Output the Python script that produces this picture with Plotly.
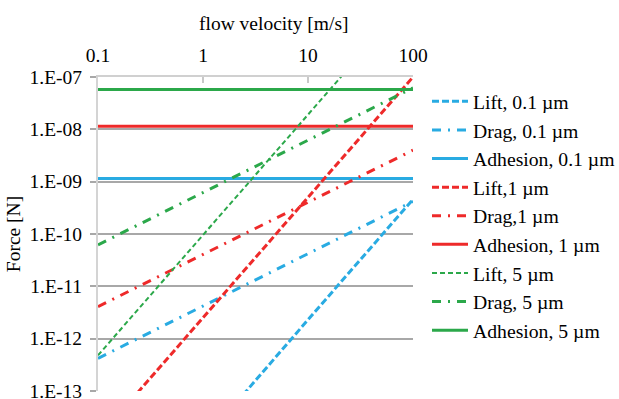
import plotly.graph_objects as go

# ---- data ----
velocity = [0.1, 1, 10, 100]  # m/s

lift_01 = [5.8e-17, 1.1e-14, 2.3e-12, 4.6e-10]
drag_01 = [4.2e-13, 4.2e-12, 4.2e-11, 4.2e-10]
adh_01 = [1.15e-9, 1.15e-9, 1.15e-9, 1.15e-9]

lift_1 = [1.26e-14, 2.5e-12, 5.0e-10, 1.0e-7]
drag_1 = [4.1e-12, 4.1e-11, 4.1e-10, 4.0e-9]
adh_1 = [1.15e-8, 1.15e-8, 1.15e-8, 1.15e-8]

lift_5 = [4.8e-13, 9.5e-11, 1.9e-8, 3.8e-6]
drag_5 = [6.2e-11, 6.2e-10, 6.2e-9, 6.2e-8]
adh_5 = [5.8e-8, 5.8e-8, 5.8e-8, 5.8e-8]

names = ["Lift, 0.1 µm", "Drag, 0.1 µm", "Adhesion, 0.1 µm",
         "Lift,1 µm", "Drag,1 µm", "Adhesion, 1 µm",
         "Lift, 5 µm", "Drag, 5 µm", "Adhesion, 5 µm"]

x_ticks = [0.1, 1, 10, 100]
x_ticklabels = ["0.1", "1", "10", "100"]
y_ticks = [1e-13, 1e-12, 1e-11, 1e-10, 1e-9, 1e-8, 1e-7]
y_ticklabels = ["1.E-13", "1.E-12", "1.E-11", "1.E-10", "1.E-09", "1.E-08", "1.E-07"]

BLUE = "#29abe2"
RED = "#ee2a2a"
GREEN = "#2ba84a"
FONT = "Liberation Serif, Times New Roman, serif"

series = [lift_01, drag_01, adh_01, lift_1, drag_1, adh_1, lift_5, drag_5, adh_5]
colors = [BLUE] * 3 + [RED] * 3 + [GREEN] * 3
dashes = ["7px,3px", "9px,7px,2px,7px", "solid",
          "7px,3px", "9px,7px,2px,7px", "solid",
          "5px,3px", "9px,7px,2px,7px", "solid"]
widths = [3, 3, 3, 3, 3, 3, 2, 3, 3]

fig = go.Figure()
for name, ys, c, d, w in zip(names, series, colors, dashes, widths):
    fig.add_trace(go.Scatter(x=velocity, y=ys, mode="lines", name=name,
                             line=dict(color=c, dash=d, width=w)))

W, H = 619, 399
L, R, T, B = 98, 413, 77, 391

fig.update_layout(
    width=W, height=H,
    margin=dict(l=L, r=W - R, t=T, b=H - B, autoexpand=False),
    paper_bgcolor="white", plot_bgcolor="white",
    font=dict(family=FONT, size=19, color="black"),
    showlegend=True,
    legend=dict(x=(427 - L) / (R - L), xanchor="left",
                y=(B - 82) / (B - T), yanchor="top",
                font=dict(family=FONT, size=19.7, color="black"),
                bgcolor="rgba(0,0,0,0)", itemwidth=36,
                tracegroupgap=0),
    xaxis=dict(type="log", side="top", range=[-1, 2],
               tickvals=x_ticks, ticktext=x_ticklabels,
               showgrid=False, zeroline=False,
               showline=True, linecolor="#d0d0d0", linewidth=1.5,
               ticks="inside", ticklen=6, tickcolor="#c8c8c8", tickwidth=1.5,
               ticklabelstandoff=5,
               tickfont=dict(family=FONT, size=19.5, color="black")),
    yaxis=dict(type="log", range=[-13, -7],
               tickvals=y_ticks, ticktext=y_ticklabels,
               showgrid=True, gridcolor="#a8a8a8", gridwidth=1.5,
               zeroline=False,
               showline=True, linecolor="#d4d4d4", linewidth=2,
               ticks="outside", ticklen=6, tickcolor="#a8a8a8", tickwidth=1.5,
               ticklabelstandoff=4, ticklabeloverflow="allow",
               tickfont=dict(family=FONT, size=19.5, color="black"),
               title=dict(text="Force [N]", standoff=4,
                          font=dict(family=FONT, size=19.5, color="black"))),
    annotations=[dict(text="flow velocity [m/s]", xref="paper", yref="paper",
                      x=(273 - L) / (R - L), y=(B - 23) / (B - T),
                      xanchor="center", yanchor="middle", showarrow=False,
                      font=dict(family=FONT, size=19.5, color="black"))],
)

fig.write_html("out.html", config={"displayModeBar": False},
               post_script="document.body.style.margin='0px';document.body.style.padding='0px';")
